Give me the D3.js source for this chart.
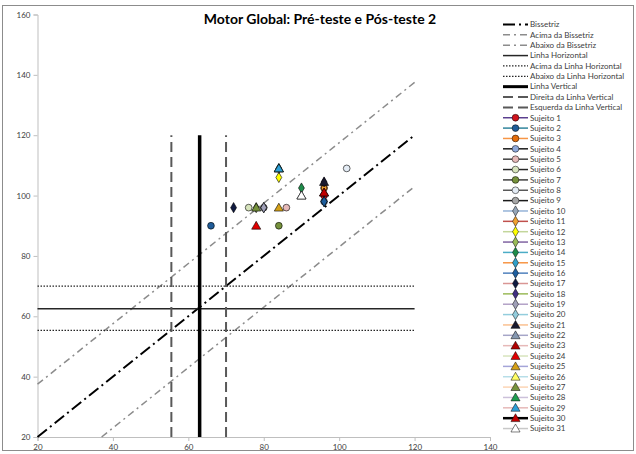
<!DOCTYPE html>
<html lang="pt">
  <head>
    <meta charset="utf-8">
    <title>Motor Global: Pré-teste e Pós-teste 2</title>
    <script type="text/javascript" src="https://cdn.jsdelivr.net/npm/d3@7"></script>
    <style>
      body { margin: 0; background: #ffffff; }
      svg { display: block; }
    </style>
  </head>
  <body>
    <script type="text/javascript">
      // data
      var xTicks = [20, 40, 60, 80, 100, 120, 140];
      var yTicks = [20, 40, 60, 80, 100, 120, 140, 160];

      // x = pré-teste, y = pós-teste 2 ; one entry per Sujeito 1..31
      var preTeste = [96, 66, 96, 96, 86, 76, 84, 102, 80, 80,
                      96, 84, 78, 90, 96, 96, 72, 96, 80, 84,
                      96, 90, 96, 78, 84, 84, 78, 84, 84, 96, 90];
      var posTeste = [100, 90, 102.5, 98, 96, 96, 90, 109, 96, 96,
                      102.5, 106, 96, 102.5, 98, 98, 96, 104.5, 96, 109,
                      104.5, 100, 101, 90, 96, 109, 96, 109, 109, 101, 100];
      var shapes = ["circle", "circle", "circle", "circle", "circle", "circle", "circle", "circle", "circle",
                    "diamond", "diamond", "diamond", "diamond", "diamond", "diamond", "diamond", "diamond",
                    "diamond", "diamond", "diamond",
                    "triangle", "triangle", "triangle", "triangle", "triangle", "triangle", "triangle",
                    "triangle", "triangle", "triangle", "triangle"];
      var markerFill = ["#d0141c", "#1f5c99", "#e46c0a", "#8ea9db", "#e6b9b8", "#d7e4bd", "#76923c",
                        "#e4ecf5", "#a6a6a6", "#95a5b8", "#f0a030", "#ffff00", "#9bbb59", "#1e8c4a",
                        "#31a0c8", "#1f5f9e", "#101a40", "#403080", "#a0a0b8", "#93cddd",
                        "#1a1a2e", "#8497b0", "#b00000", "#e00000", "#d4a017", "#ffff66", "#76923c",
                        "#1e9c50", "#2e9fd6", "#c00000", "#ffffff"];
      var lineColor = ["#5b3f8f", "#31859c", "#f79646", "#1a1a1a", "#404040", "#262626", "#404040",
                       "#595959", "#1a1a1a", "#95b3d7", "#c0504d", "#c3d69b", "#8064a2", "#4bacc6",
                       "#f79646", "#4f81bd", "#d99694", "#9bbb59", "#b3a2c7", "#93cddd",
                       "#fac090", "#a6a6c8", "#e6b9b8", "#d7e4bd", "#a5a5d8", "#b7dee8", "#fcd5b5",
                       "#ccc1da", "#e6b9b8", "#000000", "#c8c8c8"];
      var subjects = preTeste.map(function(d, i) { return "Sujeito " + (i + 1); });

      // reference lines (data units)
      var bissetriz = [[20, 20], [120, 120]];
      var acimaBissetriz = [[20, 37.5], [120, 137.5]];
      var abaixoBissetriz = [[37, 20], [120, 103]];
      var linhaHorizontal = [[20, 62.5], [120, 62.5]];
      var acimaHorizontal = [[20, 70], [120, 70]];
      var abaixoHorizontal = [[20, 55.3], [120, 55.3]];
      var linhaVertical = [[63, 20], [63, 120]];
      var direitaVertical = [[70, 20], [70, 120]];
      var esquerdaVertical = [[55.5, 20], [55.5, 120]];

      var refLines = [
        {name: "Bissetriz", pts: bissetriz, color: "#000000", width: 2, dash: "12,4,2,4"},
        {name: "Acima da Bissetriz", pts: acimaBissetriz, color: "#8c8c8c", width: 1.5, dash: "7,4,2,4"},
        {name: "Abaixo da Bissetriz", pts: abaixoBissetriz, color: "#8c8c8c", width: 1.5, dash: "7,4,2,4"},
        {name: "Linha Horizontal", pts: linhaHorizontal, color: "#262626", width: 1.5, dash: null},
        {name: "Acima da Linha Horizontal", pts: acimaHorizontal, color: "#262626", width: 1.3, dash: "1.5,1.5"},
        {name: "Abaixo da Linha Horizontal", pts: abaixoHorizontal, color: "#262626", width: 1.3, dash: "1.5,1.5"},
        {name: "Linha Vertical", pts: linhaVertical, color: "#000000", width: 3.5, dash: null},
        {name: "Direita da Linha Vertical", pts: direitaVertical, color: "#595959", width: 2, dash: "10,5"},
        {name: "Esquerda da Linha Vertical", pts: esquerdaVertical, color: "#595959", width: 2, dash: "10,5"}
      ];

      var w = 636;
      var h = 454;
      var svg = d3.select("body").append("svg")
                  .attr("width", w)
                  .attr("height", h);

      // chart frame
      svg.append("rect")
         .attr("x", 2.5).attr("y", 5.5)
         .attr("width", 631).attr("height", 445)
         .attr("fill", "#ffffff")
         .attr("stroke", "#8c8c8c")
         .attr("stroke-width", 1);

      var x = d3.scaleLinear().domain([20, 140]).range([37.5, 490]);
      var y = d3.scaleLinear().domain([20, 160]).range([437, 14.5]);

      // axes
      var xAxis = svg.append("g")
         .attr("transform", "translate(0," + y(20) + ")")
         .call(d3.axisBottom(x).tickValues(xTicks).tickSize(4).tickPadding(3));
      var yAxis = svg.append("g")
         .attr("transform", "translate(" + x(20) + ",0)")
         .call(d3.axisLeft(y).tickValues(yTicks).tickSize(4).tickPadding(3));
      [xAxis, yAxis].forEach(function(ax) {
        ax.select(".domain").attr("stroke", "#bfbfbf");
        ax.selectAll(".tick line").attr("stroke", "#bfbfbf");
        ax.selectAll(".tick text")
          .attr("fill", "#404040")
          .attr("font-family", "Lato, sans-serif")
          .attr("font-size", "8px");
      });

      // title
      svg.append("text")
         .attr("x", 320).attr("y", 24)
         .attr("text-anchor", "middle")
         .attr("font-family", "Lato, sans-serif")
         .attr("font-weight", "bold")
         .attr("font-size", "14px")
         .attr("fill", "#000000")
         .text("Motor Global: Pré-teste e Pós-teste 2");

      // reference lines
      var line = d3.line()
                   .x(function(d) { return x(d[0]); })
                   .y(function(d) { return y(d[1]); });
      svg.selectAll("path.ref")
         .data(refLines)
         .enter()
         .append("path")
         .attr("class", "ref")
         .attr("d", function(d) { return line(d.pts); })
         .attr("fill", "none")
         .attr("stroke", function(d) { return d.color; })
         .attr("stroke-width", function(d) { return d.width; })
         .attr("stroke-dasharray", function(d) { return d.dash; });

      // markers
      var symbolType = {circle: d3.symbolCircle, diamond: d3.symbolDiamond, triangle: d3.symbolTriangle};
      var symbolSize = {circle: 36, diamond: 30, triangle: 36};
      function marker(i) {
        return d3.symbol().type(symbolType[shapes[i]]).size(symbolSize[shapes[i]])();
      }
      svg.selectAll("path.pt")
         .data(subjects)
         .enter()
         .append("path")
         .attr("class", "pt")
         .attr("d", function(d, i) { return marker(i); })
         .attr("transform", function(d, i) {
           var dy = shapes[i] == "triangle" ? 0.8 : 0;
           return "translate(" + x(preTeste[i]) + "," + (y(posTeste[i]) + dy) + ")";
         })
         .attr("fill", function(d, i) { return markerFill[i]; })
         .attr("stroke", "#000000")
         .attr("stroke-width", 0.6);

      // legend
      var legendItems = refLines.map(function(d) {
        return {name: d.name, color: d.color, width: Math.min(d.width, 3), dash: d.dash, idx: -1};
      }).concat(subjects.map(function(d, i) {
        return {name: d, color: lineColor[i], width: i == 29 ? 2.5 : 1.5, dash: null, idx: i};
      }));
      var lx = 503, ly = 24.5, step = 10.36;
      var items = svg.selectAll("g.leg")
         .data(legendItems)
         .enter()
         .append("g")
         .attr("class", "leg")
         .attr("transform", function(d, i) { return "translate(" + lx + "," + (ly + i * step) + ")"; });
      items.append("line")
         .attr("x1", 0).attr("x2", 25)
         .attr("stroke", function(d) { return d.color; })
         .attr("stroke-width", function(d) { return d.width; })
         .attr("stroke-dasharray", function(d) { return d.dash; });
      items.filter(function(d) { return d.idx >= 0; })
         .append("path")
         .attr("d", function(d) { return marker(d.idx); })
         .attr("transform", function(d) { return "translate(12.5," + (shapes[d.idx] == "triangle" ? 0.8 : 0) + ")"; })
         .attr("fill", function(d) { return markerFill[d.idx]; })
         .attr("stroke", "#000000")
         .attr("stroke-width", 0.5);
      items.append("text")
         .attr("x", 27)
         .attr("dy", "0.35em")
         .attr("font-family", "Lato, sans-serif")
         .attr("font-size", "8px")
         .attr("fill", "#404040")
         .text(function(d) { return d.name; });
    </script>
  </body>
</html>
